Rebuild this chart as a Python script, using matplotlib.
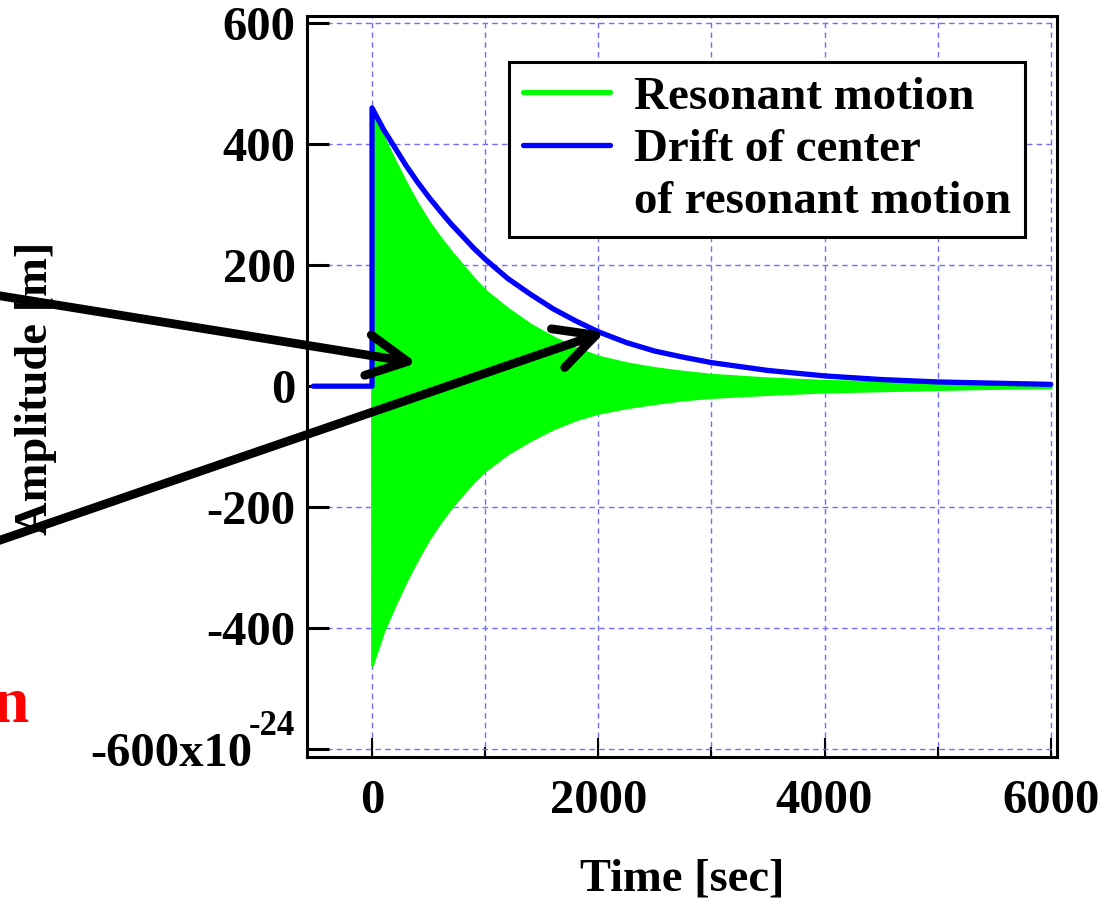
# resonant motion vs drift of the center, decaying after t = 0

import matplotlib.pyplot as plt
from matplotlib.lines import Line2D
from matplotlib.patches import FancyArrowPatch
from matplotlib.ticker import MultipleLocator
from matplotlib.transforms import ScaledTranslation

# envelope of the green (fast oscillating) resonant motion
t_env = [0, 100, 200, 300, 400, 500, 600, 700, 800, 900, 1000, 1200, 1400, 1600,
         1800, 2000, 2250, 2500, 2750, 3000, 3500, 4000, 4500, 5000, 5500, 6000]
env_upper = [456, 412, 373, 336, 302, 272, 246, 222, 200, 178, 158, 128, 102, 81,
             63, 49, 38, 30, 24, 19, 13, 9, 7, 5, 3, 2]
env_lower = [-461, -405, -362, -322, -286, -253, -225, -200, -178, -157, -139, -111, -89, -70,
             -55, -44, -35, -28, -22, -18, -13, -9, -7, -5, -3, -2]

# drift of the center (blue)
t_drift = [-520, 0, 0, 100, 200, 300, 400, 500, 600, 700, 800, 900, 1000, 1200, 1400,
           1600, 1800, 2000, 2250, 2500, 2750, 3000, 3500, 4000, 4500, 5000, 5500, 6000]
drift = [0, 0, 460, 425, 395, 365, 338, 313, 290, 268, 248, 228, 210, 178, 152,
         128, 108, 90, 72, 58, 48, 39, 26, 17, 11, 7, 5, 3]

x_ticks = [0, 2000, 4000, 6000]
x_tick_labels = ['0', '2000', '4000', '6000']
y_ticks = [-600, -400, -200, 0, 200, 400, 600]
y_tick_labels = ['-600x10', '-400', '-200', '0', '200', '400', '600']
y_exponent = '-24'

label_green = 'Resonant motion'
label_blue = ['Drift of center', 'of resonant motion']

plt.rcParams['font.family'] = 'Liberation Serif'
plt.rcParams['font.weight'] = 'bold'

fs = 35
green = '#00ff00'
blue = '#0000ff'

fig = plt.figure(figsize=(11.09, 8.99), dpi=100)
ax = fig.add_axes([0.2768, 0.1580, 0.6763, 0.8242])

# the curves
ax.fill_between(t_env, env_lower, env_upper, facecolor=green, edgecolor=green, lw=2, zorder=2)
ax.plot(t_drift, drift, color=blue, lw=3.8, solid_capstyle='round', solid_joinstyle='round', zorder=3)

ax.set_xlim(-575, 6055)
ax.set_ylim(-613, 612)

# ticks and grid
ax.set_xticks(x_ticks)
ax.set_xticklabels(x_tick_labels)
ax.xaxis.set_minor_locator(MultipleLocator(1000))
ax.set_yticks(y_ticks)
ax.set_yticklabels(y_tick_labels)
ax.tick_params(axis='x', which='major', direction='in', length=14, width=1.5, pad=16, labelsize=fs)
ax.tick_params(axis='x', which='minor', direction='in', length=7, width=1.5)
ax.tick_params(axis='y', which='major', direction='in', length=16, width=2.2, pad=8, labelsize=fs)
for lab in ax.get_xticklabels() + ax.get_yticklabels():
    lab.set_fontweight('bold')

# the bottom y label carries an exponent, so move it left and put "-24" above
low = ax.yaxis.get_major_ticks()[0].label1
low.set_transform(low.get_transform() + ScaledTranslation(-0.43, 0, fig.dpi_scale_trans))
ax.annotate(y_exponent, xy=(0, y_ticks[0]), xycoords=('axes fraction', 'data'),
            xytext=(-8.5, 16), textcoords='offset points', ha='right', va='center',
            fontsize=25, fontweight='bold')

grid_style = dict(color='#7070ff', lw=1.0, ls=(0, (4, 3)))
ax.grid(True, which='major', axis='y', **grid_style)
ax.grid(True, which='both', axis='x', **grid_style)
ax.set_axisbelow(True)

for sp in ax.spines.values():
    sp.set_linewidth(2.2)

# axis labels
ax.set_xlabel('Time [sec]', fontsize=33.5, fontweight='bold', va='center')
ax.xaxis.set_label_coords(0.501, -0.165)
ax.set_ylabel('Amplitude [m]', fontsize=33.5, fontweight='bold', va='center')
ax.yaxis.set_label_coords(-0.361, 0.497)

# legend, second label written over two rows
handles = [Line2D([], [], color=green, lw=3.8, solid_capstyle='round'),
           Line2D([], [], color=blue, lw=3.8, solid_capstyle='round'),
           Line2D([], [], color='none')]
leg = ax.legend(handles, [label_green] + label_blue, loc='upper right',
                bbox_to_anchor=(0.957, 0.938), borderaxespad=0,
                prop={'size': 33.8, 'weight': 'bold'}, handlelength=1.85,
                handletextpad=0.5, borderpad=0.3, labelspacing=0.2,
                fancybox=False, framealpha=1, edgecolor='black')
leg.get_frame().set_linewidth(2.2)

# red word cut off at the left edge
fig.text(28 / 1109, 1 - 722 / 899, 'n', color='red', fontsize=47, fontweight='bold',
         ha='right', va='baseline')

# the two pointer arrows
arrows = [((-0.018, 0.6745), (0.376, 0.5962)),
          ((-0.018, 0.3915), (0.5455, 0.6307))]
for start, end in arrows:
    arr = FancyArrowPatch(start, end, transform=fig.transFigure,
                          arrowstyle='->,head_length=0.9,head_width=0.46',
                          mutation_scale=32, lw=6.3, color='black',
                          shrinkA=0, shrinkB=0, capstyle='round', joinstyle='round',
                          clip_on=False, zorder=10)
    fig.add_artist(arr)

plt.savefig('out.png', dpi=100)
